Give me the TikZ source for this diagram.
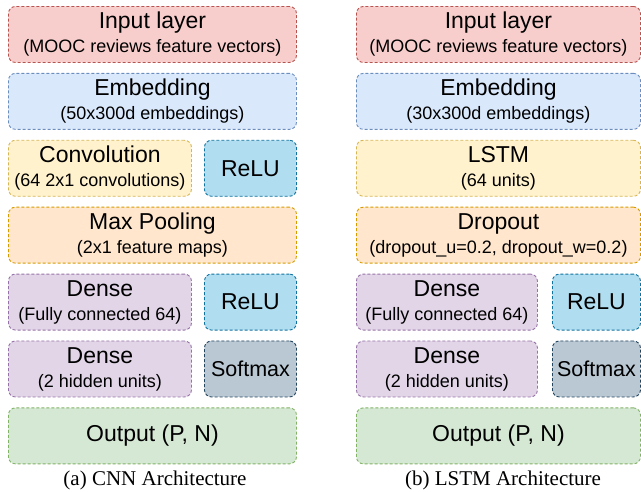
\documentclass[tikz,border=0pt]{standalone}
\usepackage{fontspec}
\setmainfont{Liberation Serif}
\setsansfont{Liberation Sans}
\usetikzlibrary{positioning}
\definecolor{inFill}{HTML}{F8CECC}\definecolor{inLine}{HTML}{B85450}
\definecolor{embFill}{HTML}{DAE8FC}\definecolor{embLine}{HTML}{6C8EBF}
\definecolor{featFill}{HTML}{FFF2CC}\definecolor{featLine}{HTML}{D6B656}
\definecolor{poolFill}{HTML}{FFE6CC}\definecolor{poolLine}{HTML}{D79B00}
\definecolor{denseFill}{HTML}{E1D5E7}\definecolor{denseLine}{HTML}{9673A6}
\definecolor{reluFill}{HTML}{B1DDF0}\definecolor{reluLine}{HTML}{10739E}
\definecolor{softFill}{HTML}{BAC8D3}\definecolor{softLine}{HTML}{23445D}
\definecolor{outFill}{HTML}{D5E8D4}\definecolor{outLine}{HTML}{82B366}
\newcommand\layersub[1]{{\fontsize{18}{24}\selectfont #1}}
\begin{document}
\begin{tikzpicture}[
    layer/.style={draw, dash pattern=on 3pt off 2pt, line width=0.9pt, rounded corners=7pt,
      align=center, inner sep=0pt, minimum height=56pt, font=\sffamily\fontsize{23}{24}\selectfont},
    inputbox/.style={layer, fill=inFill, draw=inLine},
    embedbox/.style={layer, fill=embFill, draw=embLine},
    featbox/.style={layer, fill=featFill, draw=featLine},
    poolbox/.style={layer, fill=poolFill, draw=poolLine},
    densebox/.style={layer, fill=denseFill, draw=denseLine},
    relubox/.style={layer, fill=reluFill, draw=reluLine},
    softbox/.style={layer, fill=softFill, draw=softLine, font=\sffamily\fontsize{21.5}{24}\selectfont},
    outbox/.style={layer, fill=outFill, draw=outLine},
    caption/.style={font=\fontsize{21}{24}\selectfont},
    node distance=10pt
    ]
	\useasboundingbox (0,0) rectangle (641pt,-491pt);
	% (a) CNN
	\node [inputbox, minimum width=288pt, anchor=north west] (cinput) at (8pt,-6pt)
		{Input layer\\\layersub{(MOOC reviews feature vectors)}};
	\node [embedbox, minimum width=288pt, below=of cinput] (cembed)
		{Embedding\\\layersub{(50x300d embeddings)}};
	\node [featbox, minimum width=183pt, below=of cembed.south west, anchor=north west] (cconv)
		{Convolution\\\layersub{(64 2x1 convolutions)}};
	\node [relubox, minimum width=92pt, below=of cembed.south east, anchor=north east] (crelua) {ReLU};
	\node [poolbox, minimum width=288pt, below=of cconv.south west, anchor=north west] (cpool)
		{Max Pooling\\\layersub{(2x1 feature maps)}};
	\node [densebox, minimum width=183pt, below=of cpool.south west, anchor=north west] (cdensea)
		{Dense\\\layersub{(Fully connected 64)}};
	\node [relubox, minimum width=92pt, below=of cpool.south east, anchor=north east] (crelub) {ReLU};
	\node [densebox, minimum width=183pt, below=of cdensea] (cdenseb)
		{Dense\\\layersub{(2 hidden units)}};
	\node [softbox, minimum width=92pt, below=of crelub] (csoft) {Softmax};
	\node [outbox, minimum width=288pt, below=of cdenseb.south west, anchor=north west] (coutput)
		{Output (P, N)};
	\node [caption] (ccap) at (155pt,-480pt) {(a) CNN Architecture};
	% (b) LSTM
	\node [inputbox, minimum width=284pt, anchor=north west] (linput) at (356pt,-6pt)
		{Input layer\\\layersub{(MOOC reviews feature vectors)}};
	\node [embedbox, minimum width=284pt, below=of linput] (lembed)
		{Embedding\\\layersub{(30x300d embeddings)}};
	\node [featbox, minimum width=284pt, below=of lembed] (llstm)
		{LSTM\\\layersub{(64 units)}};
	\node [poolbox, minimum width=284pt, below=of llstm] (ldrop)
		{Dropout\\\layersub{(dropout\_u=0.2, dropout\_w=0.2)}};
	\node [densebox, minimum width=181pt, below=of ldrop.south west, anchor=north west] (ldensea)
		{Dense\\\layersub{(Fully connected 64)}};
	\node [relubox, minimum width=88pt, below=of ldrop.south east, anchor=north east] (lrelu) {ReLU};
	\node [densebox, minimum width=181pt, below=of ldensea] (ldenseb)
		{Dense\\\layersub{(2 hidden units)}};
	\node [softbox, minimum width=88pt, below=of lrelu] (lsoft) {Softmax};
	\node [outbox, minimum width=284pt, below=of ldenseb.south west, anchor=north west] (loutput)
		{Output (P, N)};
	\node [caption] (lcap) at (503pt,-480pt) {(b) LSTM Architecture};
\end{tikzpicture}
\end{document}
